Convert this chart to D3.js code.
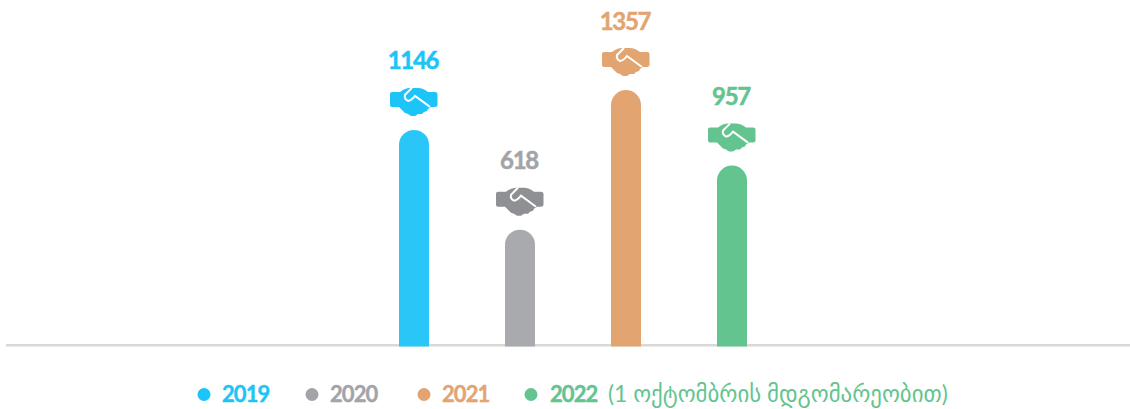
<!DOCTYPE html>
<html><head><meta charset="utf-8">
<script src="https://cdn.jsdelivr.net/npm/d3@7/dist/d3.min.js"></script>
<style>html,body{margin:0;padding:0;background:#fff;overflow:hidden}svg{display:block}text{font-family:Lato,"DejaVu Sans",sans-serif}</style>
</head><body><svg id="c" width="1130" height="409"></svg>
<script>
const years = ["2019","2020","2021","2022"];
const values = [1146,618,1357,957];
const barColors = ["#2bc6f8","#a9aaae","#e2a572","#64c48f"];
const textColors = ["#1cc4f8","#a3a4a8","#e2a572","#64c48f"];
const iconColors = ["#1cc4f8","#8f9093","#e2a572","#64c48f"];
const legendNote = "(1 ოქტომბრის მდგომარეობით)";
const svg = d3.select("#c");
const y = d3.scaleLinear().domain([0,1357]).range([346.5,90]);
const x = d3.scalePoint().domain(years).range([414,732]);
const barW = 30;
svg.append("line").attr("x1",6).attr("x2",1130).attr("y1",345.3).attr("y2",345.3).attr("stroke","#d9d9d9").attr("stroke-width",2.6);
const g = svg.selectAll("g.b").data(years).join("g").attr("class","b");
g.append("path").attr("fill",(d,i)=>barColors[i]).attr("d",(d,i)=>{
  const l=x(d)-barW/2, t=y(values[i]), r=barW/2, b=y(0);
  return `M${l},${b}V${t+r}A${r},${r} 0 0 1 ${l+barW},${t+r}V${b}Z`;
});
g.append("text").attr("x",d=>x(d)-1).attr("y",(d,i)=>y(values[i])-60.5).attr("text-anchor","middle")
 .attr("font-size",24).attr("font-weight",700).attr("letter-spacing",-1.3)
 .attr("stroke",(d,i)=>textColors[i]).attr("stroke-width",0.5)
 .attr("fill",(d,i)=>textColors[i]).text((d,i)=>values[i]);
const icon = "M-22,-9 H-14 Q-9,-13 -4,-13 H4 Q9,-13 14,-9 H21 Q23.5,-9 23.5,-7 V4 Q23.5,6 21,6 H17 L14,8 L13,10 L10,11 L8,13 L4,13 L1,15 L-3,15 L-6,13 L-9,12 L-12,9 L-15,6 H-22 Q-24,6 -24,4 V-7 Q-24,-9 -22,-9 Z";
const ig = g.append("g").attr("transform",(d,i)=>`translate(${x(d)},${y(values[i])-29})`);
ig.append("path").attr("d",icon).attr("fill",(d,i)=>iconColors[i]);
ig.append("path").attr("d","M-2,-13 L-9,-6 Q-10,-2 -6,0 Q-3,0 1,-5 L16,6").attr("fill","none").attr("stroke","#fff").attr("stroke-width",2);
const lx = [204,312,424,531], ltx=[222,330,442,550];
years.forEach((yr,i)=>{
  svg.append("circle").attr("cx",lx[i]).attr("cy",394.5).attr("r",6.5).attr("fill",textColors[i]);
  svg.append("text").attr("x",ltx[i]).attr("y",402).attr("font-size",22).attr("font-weight",700).attr("letter-spacing",-0.9)
    .attr("stroke",textColors[i]).attr("stroke-width",0.4).attr("fill",textColors[i]).text(yr);
});
svg.append("text").attr("x",608).attr("y",402).attr("font-size",22.8).attr("fill","#64c48f").text(legendNote);
</script></body></html>
